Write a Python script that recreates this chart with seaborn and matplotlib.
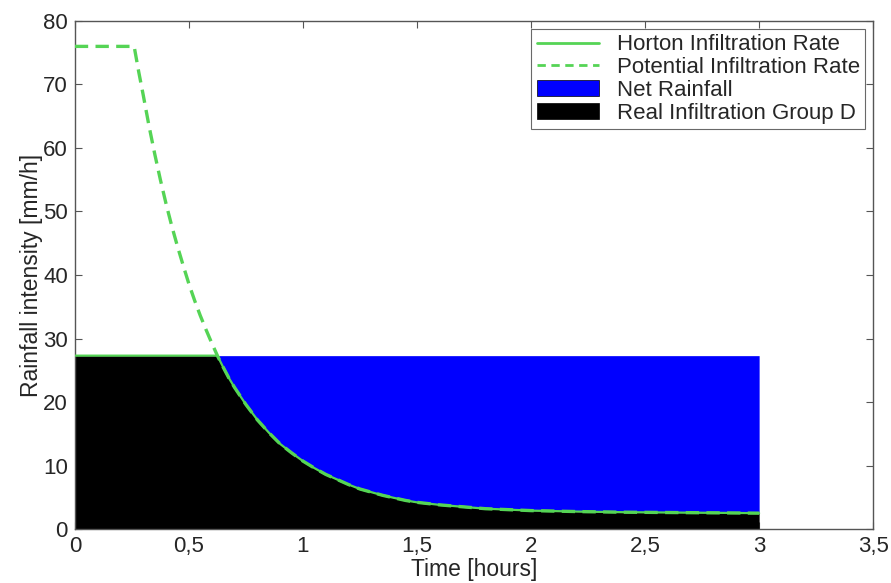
import numpy as np
import pandas as pd
import matplotlib
matplotlib.use("Agg")
import matplotlib.pyplot as plt
from matplotlib.patches import Patch
from matplotlib.lines import Line2D
import seaborn as sns

# Time axis [hours] and potential (Horton) infiltration capacity [mm/h]
time_h = [0.0, 0.26, 0.28, 0.30, 0.325, 0.35, 0.375, 0.40, 0.425, 0.45, 0.475,
          0.50, 0.525, 0.55, 0.575, 0.60, 0.625, 0.65, 0.675, 0.70, 0.75, 0.80,
          0.85, 0.90, 0.95, 1.00, 1.05, 1.10, 1.15, 1.20, 1.25, 1.30, 1.35,
          1.40, 1.45, 1.50, 1.60, 1.70, 1.80, 1.90, 2.00, 2.20, 2.40, 2.60,
          2.80, 3.00]
potential_rate = [76.0, 76.0, 72.0, 68.3, 63.5, 59.1, 55.0, 51.2, 47.7, 44.5, 41.5,
                  38.6, 36.0, 33.6, 31.4, 29.3, 27.3, 25.5, 23.8, 22.3, 19.6, 17.2,
                  15.2, 13.4, 12.0, 10.7, 9.6, 8.6, 7.8, 7.0, 6.3, 5.8, 5.3,
                  4.9, 4.5, 4.2, 3.8, 3.5, 3.2, 3.05, 2.9, 2.75, 2.65, 2.6,
                  2.55, 2.5]
# Constant rainfall intensity over the event [mm/h]
rain_intensity = 27.3

x_ticks = [0, 0.5, 1, 1.5, 2, 2.5, 3, 3.5]
x_tick_labels = ["0", "0,5", "1", "1,5", "2", "2,5", "3", "3,5"]
y_ticks = [0, 10, 20, 30, 40, 50, 60, 70, 80]

df = pd.DataFrame({"time": time_h, "potential": potential_rate})
df["rain"] = rain_intensity
df["infiltration"] = np.minimum(df["rain"], df["potential"])

sns.set_style("ticks")
plt.rcParams["font.family"] = ["Liberation Sans", "DejaVu Sans"]

fig = plt.figure(figsize=(8.91, 5.83), dpi=100)
ax = fig.add_axes([0.084, 0.0926, 0.896, 0.8714])

green = "#55d455"
blue = "#0000ff"

ax.fill_between(df["time"], df["infiltration"], df["rain"], color=blue, lw=0, zorder=1)
ax.fill_between(df["time"], 0, df["infiltration"], color="black", lw=0, zorder=1)

sns.lineplot(data=df, x="time", y="potential", ax=ax, color=green, lw=2.4,
             linestyle=(0, (4, 2.2)), zorder=3)
sns.lineplot(data=df, x="time", y="infiltration", ax=ax, color=green, lw=1.6, zorder=4)

ax.set_xlim(0, 3.5)
ax.set_ylim(0, 80)
ax.set_xticks(x_ticks)
ax.set_xticklabels(x_tick_labels)
ax.set_yticks(y_ticks)
ax.tick_params(direction="in", top=True, right=True, labelsize=16, length=5,
               color="#555555", pad=5)
for s in ax.spines.values():
    s.set_color("#555555")
    s.set_linewidth(1.0)

ax.set_xlabel("Time [hours]", fontsize=16.5, labelpad=1)
ax.set_ylabel("Rainfall intensity [mm/h]", fontsize=16.5, labelpad=0)

handles = [
    Line2D([0], [0], color=green, lw=2),
    Line2D([0], [0], color=green, lw=2, linestyle=(0, (3, 2))),
    Patch(facecolor=blue, edgecolor="black", lw=0.5),
    Patch(facecolor="black", edgecolor="black", lw=0.5),
]
labels = ["Horton Infiltration Rate", "Potential Infiltration Rate",
          "Net Rainfall", "Real Infiltration Group D"]
leg = ax.legend(handles, labels, loc="upper right", fontsize=16,
                frameon=True, fancybox=False, edgecolor="#444444",
                borderaxespad=0.35, handlelength=2.8, handletextpad=0.8,
                labelspacing=0.08, borderpad=0.25)
leg.get_frame().set_linewidth(0.8)

fig.savefig("out.png", dpi=100)
